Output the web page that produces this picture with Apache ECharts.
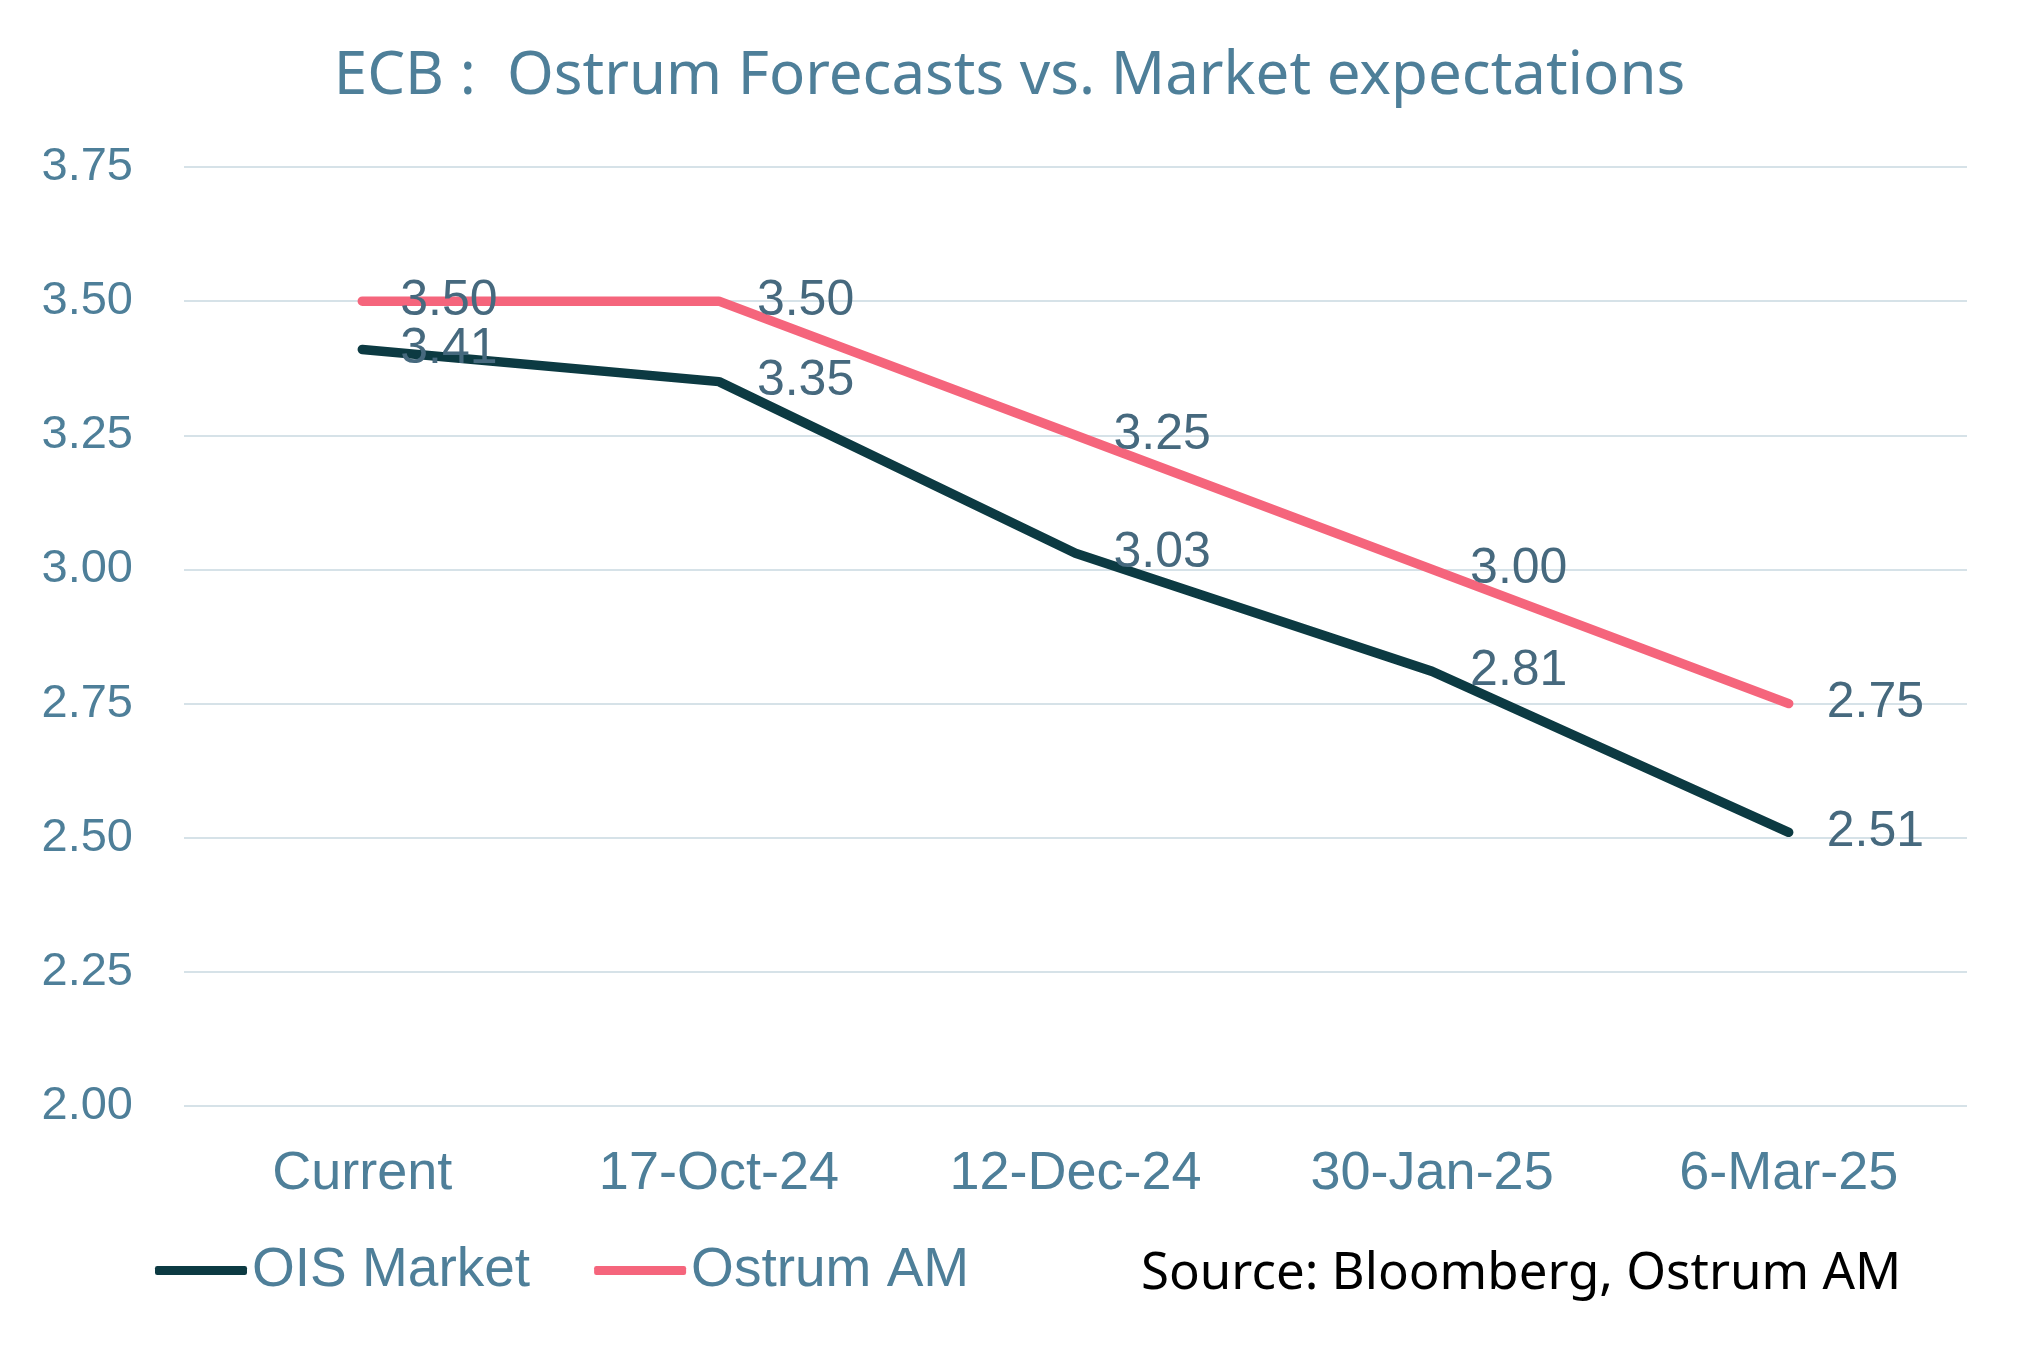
<!DOCTYPE html>
<html><head><meta charset="utf-8">
<script src="https://cdn.jsdelivr.net/npm/echarts@6/dist/echarts.min.js"></script>
<style>html,body{margin:0;padding:0;background:#fff}#c{width:2019px;height:1345px}</style>
</head><body><div id="c"></div>
<script>
const categories = ['Current', '17-Oct-24', '12-Dec-24', '30-Jan-25', '6-Mar-25'];
const oisMarket = [3.41, 3.35, 3.03, 2.81, 2.51];
const ostrumAM = [3.50, 3.50, 3.25, 3.00, 2.75];
const yMin = 2.0, yMax = 3.75, yStep = 0.25;

const axisColor = '#4e7f99';
const labelColor = '#46697e';
const chart = echarts.init(document.getElementById('c'), null, {renderer: 'canvas'});
const lbl = {
  show: true, position: 'right', distance: 37, padding: [12, 0, 0, 0],
  color: labelColor, fontFamily: 'Liberation Sans, Arial, sans-serif', fontSize: 50,
  formatter: p => p.value.toFixed(2)
};
chart.setOption({
  animation: false,
  backgroundColor: '#ffffff',
  title: {
    text: 'ECB :  Ostrum Forecasts vs. Market expectations',
    left: 'center', top: 42,
    textStyle: {color: axisColor, fontFamily: 'Noto Sans, sans-serif', fontWeight: 'normal', fontSize: 60}
  },
  graphic: [{
    type: 'text', left: 1141, top: 1249,
    style: {text: 'Source: Bloomberg, Ostrum AM', fill: '#000000', font: '51px "Noto Sans", sans-serif'}
  }],
  legend: {
    left: 150, top: 1238, itemGap: 64, itemWidth: 92, itemHeight: 9,
    icon: 'roundRect',
    textStyle: {color: axisColor, fontFamily: 'Liberation Sans, Arial, sans-serif', fontSize: 55, padding: [0,0,0,0]},
    data: ['OIS Market', 'Ostrum AM']
  },
  grid: {left: 184, right: 52, top: 167, bottom: 239},
  xAxis: {
    type: 'category', data: categories, boundaryGap: true,
    axisLine: {show: false}, axisTick: {show: false},
    axisLabel: {color: axisColor, fontFamily: 'Liberation Sans, Arial, sans-serif', fontSize: 54, margin: 41}
  },
  yAxis: {
    type: 'value', min: yMin, max: yMax, interval: yStep,
    axisLine: {show: false}, axisTick: {show: false},
    axisLabel: {color: axisColor, fontFamily: 'Liberation Sans, Arial, sans-serif', fontSize: 47, margin: 51,
      formatter: v => v.toFixed(2)},
    splitLine: {lineStyle: {color: '#d6e2e8', width: 2}}
  },
  series: [
    {name: 'OIS Market', type: 'line', data: oisMarket, symbol: 'circle', symbolSize: 2, showSymbol: true,
     lineStyle: {color: '#0c3a42', width: 9.5, cap: 'round', join: 'round'}, itemStyle: {color: '#0c3a42'},
     label: lbl, z: 3},
    {name: 'Ostrum AM', type: 'line', data: ostrumAM, symbol: 'circle', symbolSize: 2, showSymbol: true,
     lineStyle: {color: '#f5657c', width: 9.5, cap: 'round', join: 'round'}, itemStyle: {color: '#f5657c'},
     label: lbl, z: 2}
  ]
});
</script></body></html>
